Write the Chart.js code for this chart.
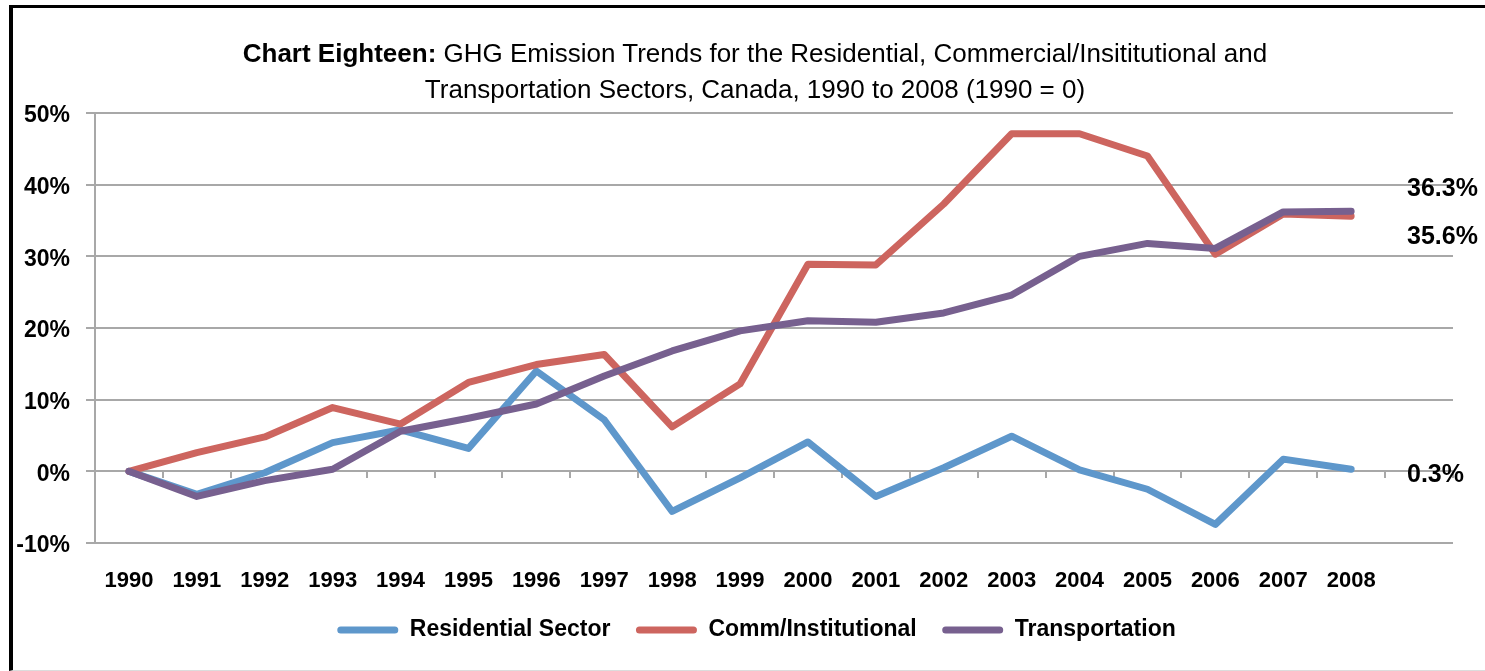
<!DOCTYPE html>
<html>
<head>
<meta charset="utf-8">
<title>Chart Eighteen</title>
<script src="https://cdn.jsdelivr.net/npm/chart.js@4.4.1/dist/chart.umd.min.js"></script>
<style>
    body { margin: 0; background: #fff; }
    #wrap { position: relative; width: 1485px; height: 671px; overflow: hidden; }
    #chart { position: absolute; left: 0; top: 0; }
    #frame {
        position: absolute; left: 9px; top: 5px; right: -10px; bottom: 0;
        border-top: 3px solid #000; border-left: 4px solid #000;
        border-bottom: 1px solid #dcdcdc; pointer-events: none;
    }
    #title {
        position: absolute; left: 155px; width: 1200px; top: 35px;
        text-align: center; font-size: 26px; line-height: 36px; color: #000;
        white-space: nowrap;
        font-family: 'Liberation Sans', Arial, sans-serif;
    }
    #title b { font-weight: bold; }
</style>
</head>
<body>
<div id="wrap">
    <canvas id="chart" width="1485" height="671"></canvas>
    <div id="frame"></div>
    <div id="title"><b>Chart Eighteen:</b> GHG Emission Trends for the Residential, Commercial/Insititutional and<br>Transportation Sectors, Canada, 1990 to 2008 (1990 = 0)</div>
</div>
<script>
const FONT = "'Liberation Sans', Arial, sans-serif";

// Data (percent change vs 1990)
const years = ['1990', '1991', '1992', '1993', '1994', '1995', '1996', '1997', '1998', '1999',
    '2000', '2001', '2002', '2003', '2004', '2005', '2006', '2007', '2008'];
const residential = [0, -3.2, -0.2, 4.0, 5.8, 3.2, 14.0, 7.2, -5.6, -0.9,
    4.1, -3.5, 0.5, 4.9, 0.2, -2.5, -7.4, 1.7, 0.3];
const commercial = [0, 2.6, 4.8, 8.9, 6.6, 12.4, 14.9, 16.3, 6.2, 12.2,
    28.9, 28.8, 37.3, 47.1, 47.1, 44.0, 30.3, 35.9, 35.6];
const transportation = [0, -3.5, -1.3, 0.3, 5.6, 7.4, 9.4, 13.3, 16.8, 19.6,
    21.0, 20.8, 22.1, 24.6, 30.0, 31.8, 31.1, 36.2, 36.3];
const seriesNames = ['Residential Sector', 'Comm/Institutional', 'Transportation'];
const yTicks = [-10, 0, 10, 20, 30, 40, 50];

const COLORS = {
    blue: '#5e97cb',
    red: '#cd655f',
    purple: '#77608f',
    grid: '#a8a8a8',
};

// extra empty slot at the end leaves room for the end labels
const labels = years.concat(['']);

function lineSet(name, values, color, order) {
    return {
        label: name,
        data: values,
        borderColor: color,
        backgroundColor: color,
        borderWidth: 7,
        borderJoinStyle: 'round',
        borderCapStyle: 'round',
        pointRadius: 0,
        pointHoverRadius: 0,
        tension: 0,
        fill: false,
        order: order,
    };
}

// value labels at the right end of each series
const endLabelPlugin = {
    id: 'endLabels',
    afterLayout(chart) {
        // nudge the legend so it centres under the plot like the original
        chart.legend.left += 30;
        chart.legend.right += 30;
    },
    afterDatasetsDraw(chart) {
        const ctx = chart.ctx;
        const y = chart.scales.y;
        const offsets = [6, 21, -22];
        ctx.save();
        ctx.font = 'bold 25px ' + FONT;
        ctx.fillStyle = '#000';
        ctx.textAlign = 'left';
        ctx.textBaseline = 'middle';
        chart.data.datasets.forEach(function(ds, i) {
            const last = ds.data[ds.data.length - 1];
            ctx.fillText(last.toFixed(1) + '%', chart.chartArea.right - 46, y.getPixelForValue(last) + offsets[i]);
        });
        ctx.restore();
    }
};

new Chart(document.getElementById('chart'), {
    type: 'line',
    data: {
        labels: labels,
        datasets: [
            lineSet(seriesNames[0], residential, COLORS.blue, 2),
            lineSet(seriesNames[1], commercial, COLORS.red, 1),
            lineSet(seriesNames[2], transportation, COLORS.purple, 0),
        ],
    },
    options: {
        responsive: false,
        animation: false,
        layout: { padding: { top: 113, right: 32, bottom: 19.5, left: 0 } },
        plugins: {
            tooltip: { enabled: false },
            legend: {
                position: 'bottom',
                labels: {
                    color: '#000',
                    font: { family: FONT, size: 23, weight: 'bold' },
                    boxWidth: 61,
                    boxHeight: 7,
                    padding: 25.5,
                    generateLabels(chart) {
                        return chart.data.datasets.map(function(ds, i) {
                            return {
                                text: ds.label,
                                fillStyle: ds.borderColor,
                                strokeStyle: ds.borderColor,
                                lineWidth: 0,
                                borderRadius: 3.5,
                                fontColor: '#000',
                                datasetIndex: i,
                            };
                        });
                    },
                },
            },
        },
        scales: {
            x: {
                type: 'category',
                offset: true,
                grid: { display: false },
                border: { display: false },
                ticks: {
                    color: '#000',
                    font: { family: FONT, size: 22, weight: 'bold' },
                    padding: 17,
                    maxRotation: 0,
                    autoSkip: false,
                },
                afterFit(scale) { scale.height = 50; },
            },
            // tick marks sitting on the zero line
            xZero: {
                type: 'category',
                position: { y: 0 },
                offset: true,
                grid: {
                    offset: true,
                    drawOnChartArea: false,
                    drawTicks: true,
                    tickLength: 7,
                    color: COLORS.grid,
                    lineWidth: 2,
                },
                border: { display: false },
                ticks: { display: false },
            },
            y: {
                min: -10,
                max: 50,
                afterBuildTicks(scale) {
                    scale.ticks = yTicks.map(function(v) { return { value: v }; });
                },
                grid: { color: COLORS.grid, lineWidth: 2, tickLength: 9 },
                border: { display: true, color: COLORS.grid, width: 2 },
                ticks: {
                    color: '#000',
                    font: { family: FONT, size: 23, weight: 'bold' },
                    padding: 16,
                    labelOffset: 3,
                    callback: function(v) { return v + '%'; },
                },
                afterFit(scale) { scale.width = 95; },
            },
        },
    },
    plugins: [endLabelPlugin],
});
</script>
</body>
</html>
